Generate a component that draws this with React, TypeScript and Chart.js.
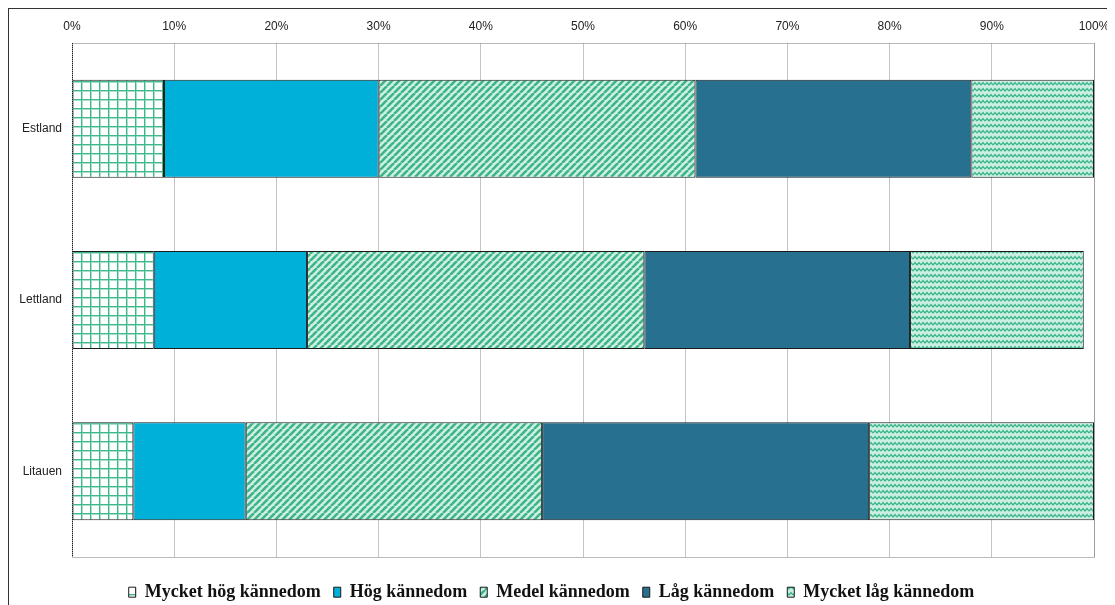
import React, { useEffect, useRef } from "react";
import { Chart, registerables } from "chart.js";

Chart.register(...registerables);

const categories = ["Estland", "Lettland", "Litauen"];
const seriesNames = [
  "Mycket hög kännedom",
  "Hög kännedom",
  "Medel kännedom",
  "Låg kännedom",
  "Mycket låg kännedom",
];
const mycketHog = [9, 8, 6];
const hog = [21, 15, 11];
const medel = [31, 33, 29];
const lag = [27, 26, 32];
const mycketLag = [12, 17, 22];
const xTicks = [0, 10, 20, 30, 40, 50, 60, 70, 80, 90, 100];

function makePattern(kind: string): CanvasPattern | string {
  const c = document.createElement("canvas");
  const ctx = c.getContext("2d")!;
  if (kind === "grid") {
    c.width = 9;
    c.height = 9;
    ctx.fillStyle = "#ffffff";
    ctx.fillRect(0, 0, 9, 9);
    ctx.fillStyle = "#a8e0cc";
    ctx.fillRect(0, 0, 9, 2);
    ctx.fillRect(0, 0, 2, 9);
    ctx.fillStyle = "#3fb88c";
    ctx.fillRect(0, 0, 9, 1);
    ctx.fillRect(0, 0, 1, 9);
  } else if (kind === "diag") {
    const s = 7;
    c.width = s;
    c.height = s;
    ctx.fillStyle = "#d0f0e4";
    ctx.fillRect(0, 0, s, s);
    ctx.strokeStyle = "#3db48a";
    ctx.lineWidth = 2.6;
    for (let o = -s; o <= s * 2; o += s) {
      ctx.beginPath();
      ctx.moveTo(o, s);
      ctx.lineTo(o + s, 0);
      ctx.stroke();
    }
  } else {
    c.width = 8;
    c.height = 6;
    ctx.fillStyle = "#cdefe3";
    ctx.fillRect(0, 0, 8, 6);
    ctx.strokeStyle = "#3fb88c";
    ctx.lineWidth = 1.4;
    ctx.beginPath();
    ctx.moveTo(0, 4);
    ctx.lineTo(2, 1.5);
    ctx.lineTo(4, 4);
    ctx.lineTo(6, 1.5);
    ctx.lineTo(8, 4);
    ctx.stroke();
  }
  const ctx0 = document.createElement("canvas").getContext("2d")!;
  return ctx0.createPattern(c, "repeat") || "#ccc";
}

const framePlugin = {
  id: "frame",
  afterInit(chart: any) {
    const lg = chart.legend;
    if (lg && !lg.__patched) {
      const orig = lg.fit;
      lg.fit = function () {
        orig.call(this);
        this.height = 48;
      };
      lg.__patched = true;
    }
  },
  afterDraw(chart: any) {
    const { ctx, chartArea } = chart;
    ctx.save();
    ctx.setLineDash([1, 1]);
    ctx.strokeStyle = "#777";
    ctx.lineWidth = 1;
    ctx.strokeRect(
      Math.round(chartArea.left) + 0.5,
      Math.round(chartArea.top) + 0.5,
      Math.round(chartArea.right - chartArea.left),
      Math.round(chartArea.bottom - chartArea.top)
    );
    ctx.strokeStyle = "#222";
    ctx.beginPath();
    ctx.moveTo(Math.round(chartArea.left) + 0.5, chartArea.top);
    ctx.lineTo(Math.round(chartArea.left) + 0.5, chartArea.bottom);
    ctx.stroke();
    ctx.restore();
  },
};

export default function App() {
  const ref = useRef<HTMLCanvasElement>(null);
  useEffect(() => {
    const fills = [
      makePattern("grid"),
      "#00b0d8",
      makePattern("diag"),
      "#28708f",
      makePattern("wave"),
    ];
    const values = [mycketHog, hog, medel, lag, mycketLag];
    const chart = new Chart(ref.current!, {
      type: "bar",
      data: {
        labels: categories,
        datasets: seriesNames.map((name, i) => ({
          label: name,
          data: values[i],
          backgroundColor: fills[i] as any,
          borderColor: "#1a1a1a",
          borderWidth: 1,
          borderSkipped: false,
          barPercentage: 0.572,
          categoryPercentage: 1,
        })),
      },
      options: {
        indexAxis: "y",
        animation: false,
        responsive: false,
        layout: { padding: { left: 0, right: 21, top: 0, bottom: 0 } },
        scales: {
          x: {
            position: "top",
            stacked: true,
            min: 0,
            max: 100,
            afterBuildTicks: (s: any) => {
              s.ticks = xTicks.map((v) => ({ value: v }));
            },
            afterFit: (s: any) => {
              s.height = 34;
              s.paddingRight = 0;
              s.paddingLeft = 0;
            },
            ticks: {
              callback: (v: any) => v + "%",
              font: { family: "Liberation Sans, Arial", size: 12 },
              color: "#222",
              padding: 9,
              maxRotation: 0,
            },
            grid: { color: "#c4c4c4", drawTicks: false, lineWidth: 1 },
            border: { display: false },
          },
          y: {
            stacked: true,
            afterFit: (s: any) => {
              s.width = 63;
            },
            ticks: {
              font: { family: "Liberation Sans, Arial", size: 12 },
              color: "#222",
              padding: 10,
            },
            grid: { display: false, drawTicks: false },
            border: { display: false },
          },
        },
        plugins: {
          legend: {
            position: "bottom",
            title: {
              display: true,
              text: "",
              font: { size: 1 },
              padding: { top: 12, bottom: 0 },
            },
            labels: {
              boxWidth: 7,
              boxHeight: 10,
              padding: 13,
              color: "#111",
              font: { family: "Liberation Serif, serif", size: 18, weight: "bold" },
            },
          },
          tooltip: { enabled: false },
        },
      },
      plugins: [framePlugin],
    });
    return () => chart.destroy();
  }, []);
  return (
    <div
      style={{
        position: "relative",
        width: 1107,
        height: 597,
        borderTop: "1px solid #333",
        borderLeft: "1px solid #333",
        boxSizing: "border-box",
        background: "#fff",
      }}
    >
      <canvas ref={ref} width={1106} height={596} style={{ display: "block" }} />
    </div>
  );
}
